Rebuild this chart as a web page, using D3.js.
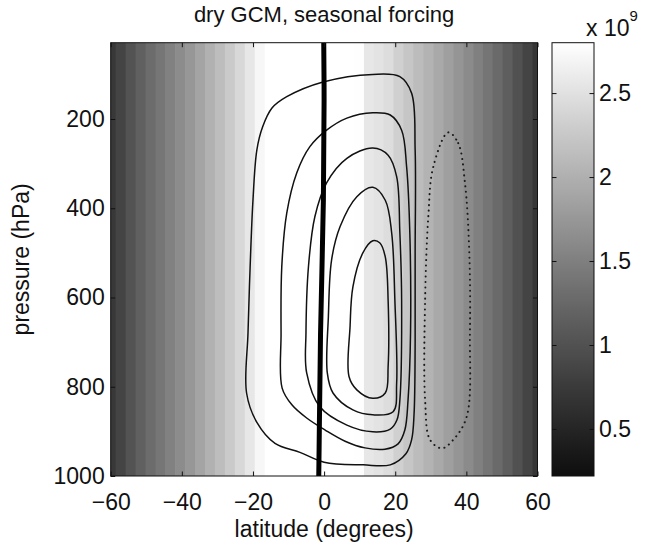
<!DOCTYPE html>
<html><head><meta charset="utf-8">
<script src="https://cdn.jsdelivr.net/npm/d3@7"></script>
<style>
body{margin:0;background:#fff}
text{font-family:"Liberation Sans",Arial,Helvetica,sans-serif;fill:#111}
</style>
</head><body>
<svg id="chart" width="653" height="550"></svg>
<script>
// ---- data ----
const latCenters = [-60.0,-57.2,-54.4,-51.6,-48.8,-46.0,-43.3,-40.5,-37.7,-34.9,-32.1,-29.3,-26.5,-23.7,-20.9,-18.1,-15.3,-12.6,-9.8,-7.0,-4.2,-1.4,
                    1.4,4.2,7.0,9.8,12.6,15.3,18.1,20.9,23.7,26.5,29.3,32.1,34.9,37.7,40.5,43.3,46.0,48.8,51.6,54.4,57.2,60.0];
const angMomentum = [0.72,0.86,1.02,1.16,1.29,1.40,1.52,1.63,1.75,1.88,2.01,2.14,2.27,2.41,2.56,2.72,2.82,2.88,2.92,2.94,2.93,2.90,
                     2.88,2.85,2.82,2.79,2.56,2.52,2.46,2.33,2.23,2.13,2.03,1.93,1.83,1.73,1.62,1.51,1.39,1.27,1.14,1.00,0.85,0.70];
const xTicks = [-60,-40,-20,0,20,40,60];
const yTicks = [200,400,600,800,1000];
const cbTicks = [0.5,1,1.5,2,2.5];
const latRange = [-60,60];
const pRange = [29,1000];
const cbRange = [0.22,2.80];

// streamfunction contours: [latitude, pressure]
const contour1 = [[13.7,100],[21.3,105],[24.6,142],[25.6,269],[25.6,500],[25.6,700],[25.3,860],[24.6,919],[23.0,950],[18.6,975],[11.0,975],[0,969],[-6.8,947],[-13.8,927],[-18.9,880],[-21.8,814],[-21.4,680],[-20.8,532],[-20.0,382],[-18.9,269],[-17.3,218],[-14.6,175],[-10.5,150],[-0.3,117]];
const contour2 = [[13.7,186],[18.6,191],[21.8,225],[23.2,307],[24.1,455],[24.3,680],[23.6,830],[22.7,897],[20.8,928],[17.1,940],[11.5,937],[5.9,922],[0.3,897],[-4.9,870],[-9.0,841],[-11.8,803],[-12.1,680],[-11.9,531],[-10.5,411],[-7.7,321],[-4.0,262],[0.7,225],[6.4,198]];
const contour3 = [[13.7,265],[18.0,281],[20.4,329],[21.3,455],[21.8,606],[21.3,830],[20.5,874],[18.6,895],[13.7,901],[6.4,886],[-1.2,845],[-4.9,769],[-5.1,680],[-4.4,531],[-2.6,419],[0.7,343],[6.4,288]];
const contour4 = [[13.7,353],[17.2,382],[19.0,455],[19.9,606],[20.4,792],[19.4,856],[13.7,863],[8.1,852],[2.5,814],[0.9,769],[1.2,643],[2.1,516],[4.5,441],[9.2,374]];
const contour5 = [[13.7,473],[15.7,478],[17.2,509],[18.0,606],[18.0,755],[17.2,814],[13.7,826],[9.2,807],[7.0,777],[7.3,665],[8.1,576],[10.9,500]];
const negContour = [[34.9,230],[37.7,254],[39.6,343],[40.8,494],[41.0,680],[40.1,867],[36.3,919],[33.1,938],[29.8,919],[28.4,830],[28.4,606],[29.3,419],[30.7,307]];
const thickLine = [[-0.1,29],[0.0,157],[-0.2,382],[-1.0,680],[-1.4,935],[-1.5,1000]];

// ---- layout ----
const FS = 23;
const svg = d3.select("#chart");
const L = 110.7, T = 42.7, W = 426.8, H = 433.3;
const CBX = 552, CBW = 42;

const x = d3.scaleLinear().domain(latRange).range([L, L+W]);
const y = d3.scaleLinear().domain(pRange).range([T, T+H]);
const cy = d3.scaleLinear().domain(cbRange).range([T+H, T]);
const norm = d3.scalePow().exponent(1.1).domain(cbRange).range([0,1]).clamp(true);
const color = v => { const g = Math.round(14 + norm(v)*(255-14)); return `rgb(${g},${g},${g})`; };

svg.append("clipPath").attr("id","plotclip").append("rect")
  .attr("x",L).attr("y",T).attr("width",W).attr("height",H);

const plot = svg.append("g").attr("clip-path","url(#plotclip)");

// heat map cells
const edges = latCenters.map((c,i)=>{
  const lo = i===0 ? c-(latCenters[1]-latCenters[0])/2 : (latCenters[i-1]+c)/2;
  const hi = i===latCenters.length-1 ? c+(c-latCenters[i-1])/2 : (c+latCenters[i+1])/2;
  return [lo,hi];
});
plot.selectAll("rect.cell").data(angMomentum).join("rect")
  .attr("class","cell")
  .attr("x",(d,i)=>x(edges[i][0]))
  .attr("width",(d,i)=>x(edges[i][1])-x(edges[i][0])+0.6)
  .attr("y",y(pRange[0])).attr("height",y(pRange[1])-y(pRange[0]))
  .attr("fill",d=>color(d));

// contours
const closedLine = d3.line().x(d=>x(d[0])).y(d=>y(d[1])).curve(d3.curveCatmullRomClosed.alpha(0.5));
[contour1,contour2,contour3,contour4,contour5].forEach(c=>{
  plot.append("path").attr("d",closedLine(c)).attr("fill","none")
    .attr("stroke","#111").attr("stroke-width",1.5);
});
plot.append("path").attr("d",closedLine(negContour)).attr("fill","none")
  .attr("stroke","#1a1a1a").attr("stroke-width",2)
  .attr("stroke-dasharray","0.1 5.4").attr("stroke-linecap","round");

const openLine = d3.line().x(d=>x(d[0])).y(d=>y(d[1])).curve(d3.curveMonotoneY);
plot.append("path").attr("d",openLine(thickLine)).attr("fill","none")
  .attr("stroke","#000").attr("stroke-width",5);

// axes
const tk = 4.5;
svg.append("g").attr("transform",`translate(0,${T+H})`)
  .call(d3.axisBottom(x).tickValues(xTicks).tickSize(-tk).tickPadding(17.5)
        .tickFormat(d=>d<0?"\u2212"+Math.abs(d):d));
svg.append("g").attr("transform",`translate(0,${T})`)
  .call(d3.axisTop(x).tickValues(xTicks).tickSize(-tk).tickFormat(""));
svg.append("g").attr("transform",`translate(${L},0)`)
  .call(d3.axisLeft(y).tickValues(yTicks).tickSize(-tk).tickPadding(6).tickFormat(d3.format("d")));
svg.append("g").attr("transform",`translate(${L+W},0)`)
  .call(d3.axisRight(y).tickValues(yTicks).tickSize(-tk).tickFormat(""));
svg.selectAll(".domain").remove();
svg.selectAll(".tick line").attr("stroke","#111").attr("stroke-width",1);
svg.selectAll(".tick text").attr("font-size",FS).attr("fill","#111")
  .style("font-family","'Liberation Sans',Arial,sans-serif");

svg.append("rect").attr("x",L).attr("y",T).attr("width",W).attr("height",H)
  .attr("fill","none").attr("stroke","#111").attr("stroke-width",1);

// colorbar
const defs = svg.append("defs");
const grad = defs.append("linearGradient").attr("id","cbgrad")
  .attr("x1",0).attr("y1",1).attr("x2",0).attr("y2",0);
d3.range(0,1.0001,0.05).forEach(t=>{
  const v = cbRange[0] + t*(cbRange[1]-cbRange[0]);
  grad.append("stop").attr("offset",t).attr("stop-color",color(v));
});
svg.append("rect").attr("x",CBX).attr("y",T).attr("width",CBW).attr("height",H)
  .attr("fill","url(#cbgrad)");
svg.append("g").attr("transform",`translate(${CBX+CBW},0)`)
  .call(d3.axisRight(cy).tickValues(cbTicks).tickSize(-tk).tickPadding(5).tickFormat(d3.format("")))
  .call(g=>g.select(".domain").remove())
  .call(g=>g.selectAll("text").attr("font-size",FS).attr("fill","#111"))
  .call(g=>g.selectAll("line").attr("stroke","#111"));
svg.append("g").attr("transform",`translate(${CBX},0)`)
  .call(d3.axisLeft(cy).tickValues(cbTicks).tickSize(-tk).tickFormat(""))
  .call(g=>g.select(".domain").remove())
  .call(g=>g.selectAll("line").attr("stroke","#111"));
svg.append("rect").attr("x",CBX).attr("y",T).attr("width",CBW).attr("height",H)
  .attr("fill","none").attr("stroke","#111").attr("stroke-width",1);

// exponent label
const ex = svg.append("text").attr("x",586).attr("y",36).attr("font-size",FS);
ex.append("tspan").text("x 10");
ex.append("tspan").attr("dy",-15).attr("font-size",15).text("9");

// titles
svg.append("text").attr("x",L+W/2).attr("y",22).attr("text-anchor","middle")
  .attr("font-size",22).text("dry GCM, seasonal forcing");
svg.append("text").attr("x",L+W/2).attr("y",537).attr("text-anchor","middle")
  .attr("font-size",FS).text("latitude (degrees)");
svg.append("text").attr("transform",`translate(29,${T+H/2}) rotate(-90)`)
  .attr("text-anchor","middle").attr("font-size",FS).text("pressure (hPa)");
</script>
</body></html>
